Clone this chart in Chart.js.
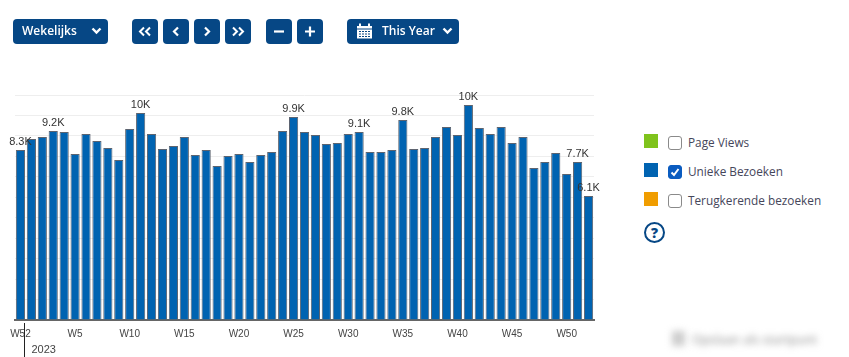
<!DOCTYPE html>
<html>
<head>
<meta charset="utf-8">
<script src="https://cdn.jsdelivr.net/npm/chart.js@4"></script>
<style>
html,body{margin:0;padding:0;background:#fff;overflow:hidden;}
body{width:849px;height:357px;position:relative;font-family:"Open Sans",sans-serif;}
#chartBox{position:absolute;left:0;top:0;width:620px;height:357px;}
.btn{position:absolute;top:19px;height:25px;background:#064785;border-radius:4px;color:#fff;font-size:12px;font-weight:600;line-height:24px;}
.btn svg{position:absolute;}
.btn span{position:absolute;top:0;white-space:nowrap;}
.swatch{position:absolute;left:644px;width:14px;height:14px;}
.check{position:absolute;left:668px;width:12px;height:12px;border:1px solid #8a8a8a;border-radius:3px;background:#fff;}
.check.on{background:#0a5cc0;border-color:#0a5cc0;}
.check svg{position:absolute;left:1px;top:1px;}
.lbl{position:absolute;left:688px;font-size:11.8px;color:#45465a;line-height:16px;white-space:nowrap;}
#help{position:absolute;left:644px;top:222px;width:17px;height:17px;border:2.5px solid #064785;border-radius:50%;color:#064785;font-size:14px;font-weight:800;line-height:17px;text-align:center;}
#blurred{position:absolute;left:692px;top:331px;font-size:12.5px;color:#888;filter:blur(3.5px);white-space:nowrap;}
#blurIcon{position:absolute;left:672px;top:331px;width:13px;height:15px;background:#ccc;filter:blur(3.5px);}
</style>
</head>
<body>
<div id="chartBox"><canvas id="weekChart" width="620" height="357"></canvas></div>

<div class="btn" style="left:13px;width:95px;"><span style="left:9px;">Wekelijks</span>
  <svg style="left:78px;top:8px;" width="11" height="8" viewBox="0 0 11 8"><path d="M1.5 1.5L5.5 5.5L9.5 1.5" fill="none" stroke="#fff" stroke-width="2.4"/></svg></div>
<div class="btn" style="left:132px;width:26px;"><svg style="left:6px;top:7px;" width="14" height="11" viewBox="0 0 14 11"><path d="M6 1.5L2 5.5L6 9.5M12 1.5L8 5.5L12 9.5" fill="none" stroke="#fff" stroke-width="2"/></svg></div>
<div class="btn" style="left:163px;width:26px;"><svg style="left:9px;top:7px;" width="8" height="11" viewBox="0 0 8 11"><path d="M6 1.5L2 5.5L6 9.5" fill="none" stroke="#fff" stroke-width="2.2"/></svg></div>
<div class="btn" style="left:194px;width:26px;"><svg style="left:9px;top:7px;" width="8" height="11" viewBox="0 0 8 11"><path d="M2 1.5L6 5.5L2 9.5" fill="none" stroke="#fff" stroke-width="2.2"/></svg></div>
<div class="btn" style="left:225px;width:26px;"><svg style="left:6px;top:7px;" width="14" height="11" viewBox="0 0 14 11"><path d="M2 1.5L6 5.5L2 9.5M8 1.5L12 5.5L8 9.5" fill="none" stroke="#fff" stroke-width="2"/></svg></div>
<div class="btn" style="left:266px;width:26px;"><svg style="left:7px;top:7px;" width="12" height="11" viewBox="0 0 12 11"><path d="M1 5.5H11" fill="none" stroke="#fff" stroke-width="2.2"/></svg></div>
<div class="btn" style="left:297px;width:26px;"><svg style="left:7px;top:7px;" width="12" height="11" viewBox="0 0 12 11"><path d="M1 5.5H11M6 .5V10.5" fill="none" stroke="#fff" stroke-width="2.2"/></svg></div>
<div class="btn" style="left:347px;width:112px;"><svg style="left:10px;top:4px;" width="15" height="16" viewBox="0 0 15 16"><path d="M0 3H15V15.5H0Z" fill="#fff"/><path d="M3 .5V4M12 .5V4" stroke="#fff" stroke-width="2"/><path d="M0 6H15" stroke="#064785"/><path d="M2 8.5H13M2 11H13M2 13.5H13" stroke="#064785" stroke-dasharray="2 1"/></svg>
  <span style="left:35px;">This Year</span>
  <svg style="left:95px;top:8px;" width="11" height="8" viewBox="0 0 11 8"><path d="M1.5 1.5L5.5 5.5L9.5 1.5" fill="none" stroke="#fff" stroke-width="2.4"/></svg></div>

<div class="swatch" style="top:134px;background:#7fc31c;"></div>
<div class="check" style="top:136px;"></div>
<div class="lbl" style="top:134px;">Page Views</div>
<div class="swatch" style="top:163px;background:#0063b1;"></div>
<div class="check on" style="top:165px;"><svg width="10" height="10" viewBox="0 0 10 10"><path d="M1.5 5.5L4 8L8.5 2" fill="none" stroke="#fff" stroke-width="2"/></svg></div>
<div class="lbl" style="top:163px;">Unieke Bezoeken</div>
<div class="swatch" style="top:192px;background:#f09d00;"></div>
<div class="check" style="top:194px;"></div>
<div class="lbl" style="top:192px;">Terugkerende bezoeken</div>
<div id="help">?</div>
<div id="blurIcon"></div>
<div id="blurred">Opslaan als startpunt</div>

<script>
const weeks = ["W52","W1","W2","W3","W4","W5","W6","W7","W8","W9","W10","W11","W12","W13","W14","W15","W16","W17","W18","W19","W20","W21","W22","W23","W24","W25","W26","W27","W28","W29","W30","W31","W32","W33","W34","W35","W36","W37","W38","W39","W40","W41","W42","W43","W44","W45","W46","W47","W48","W49","W50","W51","W52"];
const uniqueVisits = [8311,8849,8947,9240,9191,8116,9093,8751,8409,7822,9338,10120,9093,8360,8507,8947,8067,8311,7529,8018,8116,7724,8067,8213,9240,9924,9191,9044,8604,8653,9093,9191,8213,8213,8311,9778,8360,8409,8947,9436,9044,10511,9387,9093,9436,8653,8947,7431,7724,8164,7138,7724,6062];
const labelIndexes = [0,3,11,25,31,35,41,51,52];
const labelTexts = ["8.3K","9.2K","10K","9.9K","9.1K","9.8K","10K","7.7K","6.1K"];
const yearLabel = "2023";

const peakLabels = {
  id: 'peakLabels',
  afterDatasetsDraw(chart){
    const ctx = chart.ctx;
    const x = chart.scales.x, y = chart.scales.y;
    ctx.save();
    ctx.font = "11px 'Liberation Sans'";
    ctx.fillStyle = "#333";
    ctx.textAlign = "center";
    ctx.textBaseline = "middle";
    labelIndexes.forEach((idx, i) => {
      ctx.fillText(labelTexts[i], x.getPixelForValue(idx), y.getPixelForValue(uniqueVisits[idx]) - 8);
    });
    // year marker under the first week
    let yearX = Math.round(x.getPixelForValue(0) + 4) + 0.5;
    ctx.strokeStyle = "#222";
    ctx.lineWidth = 1;
    ctx.beginPath();
    ctx.moveTo(yearX, y.bottom + 3);
    ctx.lineTo(yearX, chart.height);
    ctx.stroke();
    ctx.textAlign = "left";
    ctx.fillStyle = "#444";
    ctx.fillText(yearLabel, yearX + 7, y.bottom + 30);
    ctx.restore();
  }
};

new Chart(document.getElementById('weekChart'), {
  type: 'bar',
  data: {
    labels: weeks,
    datasets: [{
      data: uniqueVisits,
      backgroundColor: '#0063b1',
      borderColor: '#5d6470',
      borderWidth: 1,
      borderSkipped: 'bottom',
      categoryPercentage: 1,
      barPercentage: 0.84
    }]
  },
  options: {
    responsive: false,
    animation: false,
    devicePixelRatio: 1,
    layout: {padding: {left: 15, right: 26, top: 95, bottom: 0}},
    plugins: {legend: {display: false}, tooltip: {enabled: false}},
    scales: {
      x: {
        grid: {display: false, drawTicks: false},
        border: {display: true, color: '#666', width: 2},
        ticks: {
          autoSkip: false, maxRotation: 0, padding: 8,
          color: '#444', font: {family: "'Liberation Sans'", size: 10},
          callback: function(value, index){ return index % 5 == 0 ? weeks[index] : ''; }
        },
        afterFit: function(scale){ scale.height = 37; }
      },
      y: {
        min: 0, max: 11000,
        grid: {color: '#eee', drawTicks: false},
        border: {display: false},
        ticks: {display: false, stepSize: 1000},
        afterFit: function(scale){ scale.width = 0; }
      }
    }
  },
  plugins: [peakLabels]
});
</script>
</body>
</html>
